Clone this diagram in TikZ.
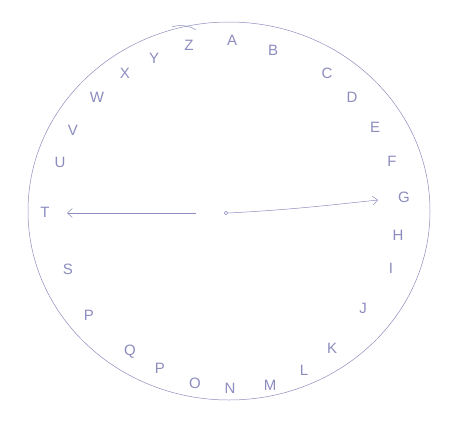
\documentclass[tikz,border=0pt]{standalone}
\usepackage{fontspec}
\setmainfont{Liberation Sans}
\usetikzlibrary{arrows.meta}
\definecolor{pencil}{RGB}{140,140,190}
\tikzset{
  letter/.style={text=pencil, font=\fontsize{15}{15}\selectfont, inner sep=0pt},
  pen/.style={draw=pencil, line width=0.5pt},
  tip/.style={-{Straight Barb[length=5pt,width=9pt]}}
}
\begin{document}
\begin{tikzpicture}[x=1pt,y=-1pt]
\useasboundingbox (0,0) rectangle (460,423);
\draw[pen] (229,211) ellipse [x radius=201, y radius=189];
\draw[pen] (172,27) .. controls (180,24) and (190,26) .. (196,30);
\node[pen, circle, minimum size=3.5pt, inner sep=0pt, line width=0.5pt] (c) at (226,213) {};
\coordinate (tl) at (67,213);
\coordinate (tr) at (378,200);
\draw[pen, tip] (c.west) ++(-28,0) -- (tl);
\draw[pen, tip] (c.east) .. controls (290,210) and (340,204) .. (tr);
\foreach \t/\x/\y in {A/232/40, B/273/50, C/327/73, D/352/97, E/375/127, F/392/161,
  G/404/197, H/398/235, I/391/268, J/363/308, K/332/348, L/304/370, M/270/385,
  N/230/388, O/195/383, P/160/368, Q/130/352, S/68/269, T/45/212,
  U/60/162, V/73/130, W/97/97, X/125/73, Y/154/58, Z/189/45}
  \node[letter] (l\t) at (\x,\y) {\t};
\node[letter] (lR) at (89,315) {P};
\end{tikzpicture}
\end{document}
